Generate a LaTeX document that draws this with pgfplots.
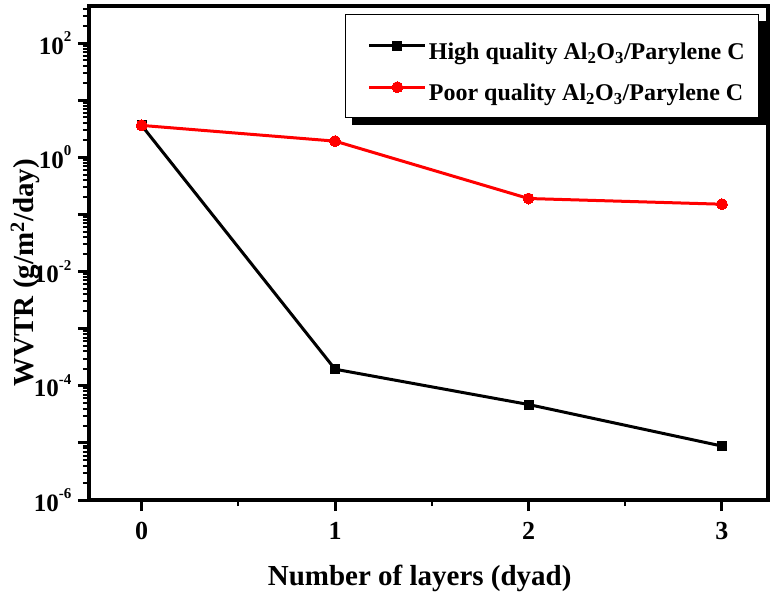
\documentclass[border=0pt]{standalone}
\usepackage{fontspec}
\setmainfont{Liberation Serif}
\usepackage{pgfplots}
\pgfplotsset{compat=1.18}
\newcommand\ex[1]{\raisebox{0.5em}{\fontsize{15}{15}\selectfont #1}}
\begin{document}
\bfseries
\begin{tikzpicture}
\useasboundingbox (-89pt,-91pt) rectangle (686pt,500pt);
\begin{axis}[
  at={(0pt,0pt)}, anchor=south west,
  scale only axis, width=679pt, height=494pt,
  ymode=log,
  xmin=-0.272, xmax=3.238,
  ymin=1e-6, ymax=446,
  axis line style={line width=3.5pt},
  tick align=outside,
  xtick pos=bottom, ytick pos=left,
  xtick={0,1,2,3},
  xticklabels={0,1,2,3},
  minor xtick={0.5,1.5,2.5},
  ytick={1e-6,1e-4,1e-2,1,100},
  yticklabels={10\ex{-6},10\ex{-4},10\ex{-2},10\ex{0},10\ex{2}},
  extra y ticks={1e-5,1e-3,1e-1,10},
  extra y tick labels={},
  minor ytick={2e-6,3e-6,4e-6,5e-6,6e-6,7e-6,8e-6,9e-6,
               2e-5,3e-5,4e-5,5e-5,6e-5,7e-5,8e-5,9e-5,
               2e-4,3e-4,4e-4,5e-4,6e-4,7e-4,8e-4,9e-4,
               2e-3,3e-3,4e-3,5e-3,6e-3,7e-3,8e-3,9e-3,
               2e-2,3e-2,4e-2,5e-2,6e-2,7e-2,8e-2,9e-2,
               0.2,0.3,0.4,0.5,0.6,0.7,0.8,0.9,
               2,3,4,5,6,7,8,9,
               20,30,40,50,60,70,80,90,
               200,300,400},
  major tick length=11pt,
  minor tick length=6pt,
  every tick/.style={black, line width=3pt},
  minor tick style={line width=2pt},
  xticklabel style={font=\bfseries\fontsize{26}{30}\selectfont, yshift=-8pt},
  yticklabel style={font=\bfseries\fontsize{25}{30}\selectfont, xshift=-3pt},
  label style={font=\bfseries\fontsize{29}{34}\selectfont},
  xlabel={Number of layers (dyad)},
  ylabel={WVTR (g/m\textsuperscript{2}/day)},
  xlabel style={at={(axis description cs:0.487,0)}, anchor=center, yshift=-78pt},
  ylabel style={at={(axis description cs:-0.094,0.46)}, anchor=center},
  legend style={at={(rel axis cs:0.987,0.983)}, anchor=north east,
    name=leg,
    draw=black, line width=1pt, fill=white,
    font=\bfseries\fontsize{24}{28}\selectfont,
    inner xsep=12pt, inner ysep=14pt,
    row sep=8pt,
    nodes={inner sep=2pt},
    /tikz/every even column/.append style={nodes={text height=28.5pt, text depth=1pt}}},
  legend cell align=left,
  legend image code/.code={\path (-10pt,0pt); \draw[mark repeat=2,mark phase=2,#1] plot coordinates {(0pt,0pt) (28pt,0pt) (56pt,0pt)};},
]
\addplot[black, line width=3pt, mark=square*, mark size=4.5pt, mark options={solid, line width=0pt}]
  coordinates {(0,3.62) (1,1.95e-4) (2,4.7e-5) (3,8.8e-6)};
\addlegendentry{High quality Al\textsubscript{2}O\textsubscript{3}/Parylene C}
\addplot[red, line width=3pt, mark=*, mark size=5.5pt, mark options={solid, line width=0pt}]
  coordinates {(0,3.62) (1,1.92) (2,0.19) (3,0.151)};
\addlegendentry{Poor quality Al\textsubscript{2}O\textsubscript{3}/Parylene C}
\end{axis}
\fill[black] ([yshift=-7pt]leg.north east) rectangle ([xshift=7pt,yshift=-7pt]leg.south east);
\fill[black] ([xshift=7pt]leg.south west) rectangle ([xshift=7pt,yshift=-7pt]leg.south east);
\end{tikzpicture}
\end{document}
